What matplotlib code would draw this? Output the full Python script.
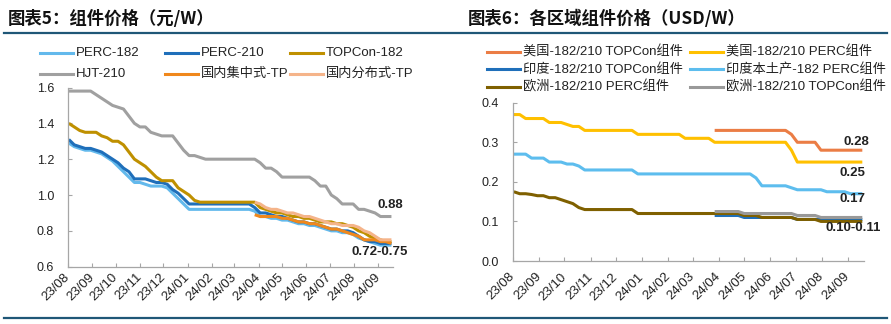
import numpy as np
import pandas as pd
import matplotlib
matplotlib.use('Agg')
import matplotlib.pyplot as plt
from matplotlib.lines import Line2D

plt.rcParams['font.family'] = ['Liberation Sans', 'Noto Sans CJK SC', 'DejaVu Sans']

# ---------------- data ----------------
dates = pd.date_range('2023-08-02', periods=60, freq='7D')
month_starts = pd.date_range('2023-08-01', '2024-09-01', freq='MS')
month_labels = ['23/08', '23/09', '23/10', '23/11', '23/12', '24/01', '24/02',
                '24/03', '24/04', '24/05', '24/06', '24/07', '24/08', '24/09']

# Chart 5 (RMB/W)
perc182 = [1.29, 1.27, 1.26, 1.25, 1.25, 1.24, 1.23, 1.21, 1.19, 1.16, 1.13, 1.10,
           1.07, 1.07, 1.06, 1.05, 1.05, 1.05, 1.04, 1.01, 0.98, 0.95, 0.92] + [0.92] * 11 + \
          [0.91, 0.88, 0.88, 0.87, 0.87, 0.86, 0.86, 0.85, 0.84, 0.84, 0.83, 0.83, 0.82,
           0.81, 0.80, 0.80, 0.79, 0.79, 0.78, 0.76, 0.75, 0.74, 0.73, 0.72, 0.72, 0.72]
perc210 = [1.31, 1.28, 1.27, 1.26, 1.26, 1.25, 1.24, 1.22, 1.20, 1.18, 1.15, 1.13,
           1.09, 1.09, 1.09, 1.08, 1.07, 1.07, 1.06, 1.03, 1.01, 0.98, 0.95] + [0.95] * 11 + \
          [0.93, 0.90, 0.90, 0.89, 0.88, 0.88, 0.87, 0.86, 0.85, 0.85, 0.84, 0.84, 0.83,
           0.82, 0.81, 0.81, 0.80, 0.80, 0.79, 0.77, 0.75, 0.74, 0.74, 0.73, 0.73, 0.73]
topcon182 = [1.40, 1.38, 1.36, 1.35, 1.35, 1.35, 1.33, 1.32, 1.30, 1.30, 1.28, 1.24,
             1.20, 1.18, 1.16, 1.13, 1.10, 1.08, 1.08, 1.08, 1.04, 1.02, 1.00, 0.97] + [0.96] * 10 + \
            [0.96, 0.93, 0.92, 0.91, 0.90, 0.90, 0.89, 0.88, 0.88, 0.87, 0.87, 0.86, 0.85,
             0.85, 0.85, 0.84, 0.84, 0.83, 0.82, 0.80, 0.79, 0.77, 0.76, 0.75, 0.74, 0.74]
hjt210 = [1.58] * 5 + \
         [1.56, 1.54, 1.52, 1.50, 1.49, 1.48, 1.44, 1.40, 1.38, 1.38, 1.35, 1.34, 1.33,
          1.33, 1.33, 1.29, 1.25, 1.22, 1.22, 1.21] + [1.20] * 10 + \
         [1.18, 1.15, 1.15, 1.13, 1.10, 1.10, 1.10, 1.10, 1.10, 1.10, 1.08, 1.05, 1.05,
          1.00, 0.98, 0.95, 0.95, 0.95, 0.92, 0.92, 0.91, 0.90, 0.88, 0.88, 0.88]
tp_central = [None] * 34 + \
             [0.89, 0.88, 0.88, 0.88, 0.88, 0.87, 0.87, 0.86, 0.85, 0.85, 0.84, 0.84, 0.83,
              0.82, 0.81, 0.81, 0.80, 0.79, 0.78, 0.77, 0.75, 0.75, 0.75, 0.74, 0.74, 0.73]
tp_distrib = [None] * 34 + \
             [0.96, 0.95, 0.93, 0.92, 0.92, 0.91, 0.90, 0.90, 0.89, 0.88, 0.88, 0.87, 0.86,
              0.85, 0.84, 0.84, 0.83, 0.83, 0.83, 0.82, 0.80, 0.79, 0.77, 0.75, 0.75, 0.75]

# Chart 6 (USD/W)
us_topcon = [None] * 34 + [0.33] * 13 + [0.32] + [0.30] * 4 + [0.28] * 8
us_perc = [0.37, 0.37, 0.36, 0.36, 0.36, 0.36, 0.35, 0.35, 0.35, 0.345, 0.34, 0.34] + \
          [0.33] * 9 + [0.32] * 8 + [0.31] * 5 + [0.30] * 13 + [0.28] + [0.25] * 12
in_topcon = [None] * 34 + [0.115] * 5 + [0.11] * 9 + [0.105] * 12
in_perc = [0.27] * 3 + [0.26] * 3 + [0.25] * 3 + [0.245] * 2 + [0.24] + [0.23] * 9 + \
          [0.22] * 20 + [0.21] + [0.19] * 5 + [0.185] + [0.18] * 5 + [0.175] * 4 + [0.17] * 3
eu_perc = [0.175, 0.17, 0.17, 0.168, 0.165, 0.165, 0.16, 0.16, 0.155, 0.15, 0.145, 0.135] + \
          [0.13] * 9 + [0.12] * 18 + [0.115] * 3 + [0.11] * 6 + [0.105] * 4 + [0.10] * 8
eu_topcon = [None] * 34 + [0.125] * 5 + [0.12] * 9 + [0.115] * 4 + [0.11] * 8

left_series = [('PERC-182', perc182, '#63B9EC'),
               ('PERC-210', perc210, '#1F6FBA'),
               ('TOPCon-182', topcon182, '#BF9000'),
               ('HJT-210', hjt210, '#A0A0A0'),
               ('国内集中式-TP', tp_central, '#F0881C'),
               ('国内分布式-TP', tp_distrib, '#F5B48A')]
right_series = [('美国-182/210 TOPCon组件', us_topcon, '#EB7D45'),
                ('美国-182/210 PERC组件', us_perc, '#FFC000'),
                ('印度-182/210 TOPCon组件', in_topcon, '#1F6FBA'),
                ('印度本土产-182 PERC组件', in_perc, '#5DBDEE'),
                ('欧洲-182/210 PERC组件', eu_perc, '#7F6000'),
                ('欧洲-182/210 TOPCon组件', eu_topcon, '#999999')]

# ---------------- figure ----------------
W, H = 891, 324
fig = plt.figure(figsize=(W / 100, H / 100), dpi=100)


def fx(px):
    return px / W


def fy(py):
    return 1 - py / H


def make_axes(x0, x1, ytop, ybot):
    return fig.add_axes([fx(x0), fy(ybot), (x1 - x0) / W, (ybot - ytop) / H])


def style(ax, ylim, yticks, yfmt, xpad):
    for s in ('top', 'right'):
        ax.spines[s].set_visible(False)
    for s in ('left', 'bottom'):
        ax.spines[s].set_color('#A6A6A6')
        ax.spines[s].set_linewidth(0.9)
    ax.set_ylim(*ylim)
    ax.set_yticks(yticks)
    ax.set_yticklabels([yfmt.format(v) for v in yticks])
    ax.set_xlim(np.datetime64('2023-08-01'), np.datetime64('2024-09-20'))
    ax.set_xticks(month_starts)
    ax.set_xticklabels(month_labels, rotation=45, ha='right', va='center',
                       rotation_mode='anchor')
    ax.tick_params(axis='both', direction='in', length=3, color='#A6A6A6',
                   labelcolor='#222222', width=0.8)
    ax.tick_params(axis='y', pad=10, labelsize=9)
    ax.tick_params(axis='x', pad=xpad, labelsize=9.5)


def plot_series(ax, series):
    for name, vals, col in series:
        arr = np.array([np.nan if v is None else v for v in vals], dtype=float)
        ax.plot(dates, arr, color=col, lw=2.2, solid_joinstyle='round',
                solid_capstyle='butt')


def legend_entry(xh, y, color, label, fs):
    fig.add_artist(Line2D([fx(xh), fx(xh + 33)], [fy(y), fy(y)],
                          transform=fig.transFigure, color=color, lw=2.2))
    fig.text(fx(xh + 36), fy(y), label, fontsize=fs, va='center', ha='left',
             color='#222222')


# left chart
ax1 = make_axes(68, 393, 87.5, 266.7)
plot_series(ax1, left_series)
style(ax1, (0.6, 1.6), [0.6, 0.8, 1.0, 1.2, 1.4, 1.6], '{:.1f}', 6)

# right chart
ax2 = make_axes(513, 864, 102.7, 261)
plot_series(ax2, right_series)
style(ax2, (0.0, 0.4), [0.0, 0.1, 0.2, 0.3, 0.4], '{:.1f}', 10)

# legends
lcols = [40, 165, 290]
lrows = [53, 74]
for i, (name, vals, col) in enumerate(left_series):
    legend_entry(lcols[i % 3], lrows[i // 3], col, name, 9.5)

rcols = [487, 690]
rrows = [52, 69.5, 87]
for i, (name, vals, col) in enumerate(right_series):
    legend_entry(rcols[i % 2], rrows[i // 2], col, name, 9.5)

# annotations
ann = dict(fontsize=9.5, fontweight='bold', color='#222222', va='center')
fig.text(fx(377), fy(205), '0.88', ha='left', **ann)
fig.text(fx(352), fy(252), '0.72-0.75', ha='left', **ann)
fig.text(fx(843), fy(142), '0.28', ha='left', **ann)
fig.text(fx(840), fy(173), '0.25', ha='left', **ann)
fig.text(fx(840), fy(199), '0.17', ha='left', **ann)
fig.text(fx(825), fy(228), '0.10-0.11', ha='left', **ann)

# titles and rules
fig.text(fx(8), fy(19), '图表5：组件价格（元/W）', fontsize=12.5, fontweight='bold',
         ha='left', va='center', color='#111111',
         family=['Noto Sans CJK SC', 'DejaVu Sans'])
fig.text(fx(468), fy(19), '图表6：各区域组件价格（USD/W）', fontsize=12.5, fontweight='bold',
         ha='left', va='center', color='#111111',
         family=['Noto Sans CJK SC', 'DejaVu Sans'])
for yy in (33, 318):
    fig.add_artist(Line2D([fx(4), fx(887)], [fy(yy), fy(yy)],
                          transform=fig.transFigure, color='#1F5777', lw=1.6))

fig.savefig('out.png', dpi=100)
